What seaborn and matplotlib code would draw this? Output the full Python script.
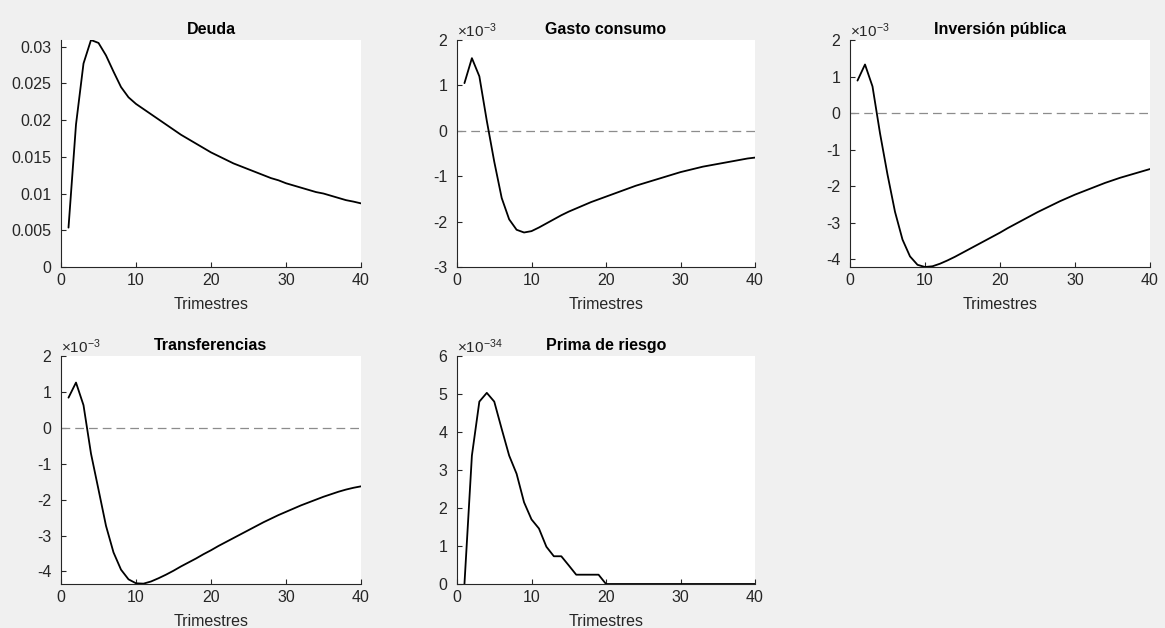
import numpy as np
import pandas as pd
import matplotlib
matplotlib.use("Agg")
import matplotlib.pyplot as plt
from matplotlib.ticker import FuncFormatter
import seaborn as sns

# ---------------- data ----------------
trimestres = list(range(1, 41))

deuda = [0.00536, 0.0194, 0.0277, 0.0309, 0.0305, 0.0288, 0.0266, 0.0245, 0.0231, 0.0222,
         0.0215, 0.0208, 0.0201, 0.0194, 0.0187, 0.0180, 0.0174, 0.0168, 0.0162, 0.0156,
         0.0151, 0.0146, 0.0141, 0.0137, 0.0133, 0.0129, 0.0125, 0.0121, 0.0118, 0.0114,
         0.0111, 0.0108, 0.0105, 0.0102, 0.0100, 0.0097, 0.0094, 0.0091, 0.0089, 0.00866]

gasto_consumo = [1.05, 1.60, 1.20, 0.22, -0.68, -1.48, -1.95, -2.18, -2.24, -2.21,
                 -2.13, -2.04, -1.95, -1.86, -1.78, -1.71, -1.64, -1.57, -1.51, -1.45,
                 -1.39, -1.33, -1.27, -1.21, -1.16, -1.11, -1.06, -1.01, -0.96, -0.91,
                 -0.87, -0.83, -0.79, -0.76, -0.73, -0.70, -0.67, -0.64, -0.61, -0.59]

inversion_publica = [0.89, 1.33, 0.73, -0.55, -1.68, -2.70, -3.46, -3.92, -4.15, -4.21,
                     -4.19, -4.12, -4.03, -3.93, -3.82, -3.71, -3.60, -3.49, -3.38, -3.27,
                     -3.15, -3.04, -2.93, -2.82, -2.71, -2.61, -2.51, -2.41, -2.32, -2.23,
                     -2.15, -2.07, -1.99, -1.91, -1.84, -1.77, -1.71, -1.65, -1.59, -1.53]

transferencias = [0.84, 1.26, 0.63, -0.72, -1.72, -2.73, -3.47, -3.95, -4.22, -4.33,
                  -4.34, -4.28, -4.19, -4.09, -3.98, -3.86, -3.75, -3.64, -3.52, -3.41,
                  -3.29, -3.18, -3.07, -2.96, -2.85, -2.74, -2.63, -2.53, -2.43, -2.34,
                  -2.25, -2.16, -2.08, -2.00, -1.92, -1.85, -1.78, -1.72, -1.67, -1.63]

prima_riesgo = [0.0, 3.38, 4.80, 5.03, 4.80, 4.08, 3.38, 2.90, 2.15, 1.70,
                1.46, 0.98, 0.73, 0.73, 0.49, 0.245, 0.245, 0.245, 0.245, 0.0,
                0, 0, 0, 0, 0, 0, 0, 0, 0, 0,
                0, 0, 0, 0, 0, 0, 0, 0, 0, 0]

titles = ["Deuda", "Gasto consumo", "Inversión pública", "Transferencias", "Prima de riesgo"]
exponents = [0, -3, -3, -3, -34]
ylims = [(0, 0.0309), (-3, 2), (-4.21, 2), (-4.35, 2), (0, 6)]  # in displayed units
yticks = [[0, 0.005, 0.01, 0.015, 0.02, 0.025, 0.03],
          [-3, -2, -1, 0, 1, 2],
          [-4, -3, -2, -1, 0, 1, 2],
          [-4, -3, -2, -1, 0, 1, 2],
          [0, 1, 2, 3, 4, 5, 6]]
zero_line = [False, True, True, True, False]
xlabel = "Trimestres"

series = [
    np.array(deuda),
    np.array(gasto_consumo) * 1e-3,
    np.array(inversion_publica) * 1e-3,
    np.array(transferencias) * 1e-3,
    np.array(prima_riesgo) * 1e-34,
]

# ---------------- style ----------------
sns.set_theme(style="white")
plt.rcParams["font.family"] = ["Liberation Sans", "DejaVu Sans"]
plt.rcParams["axes.unicode_minus"] = False
plt.rcParams["mathtext.fontset"] = "custom"
plt.rcParams["mathtext.rm"] = "Liberation Sans"
plt.rcParams["mathtext.it"] = "Liberation Sans:italic"
plt.rcParams["mathtext.bf"] = "Liberation Sans:bold"

AX_COL = "#262626"
FS = 11.5

W, H = 1165, 628
fig = plt.figure(figsize=(W / 100, H / 100), dpi=100, facecolor="#f0f0f0")

# axes rectangles in pixels: (left, top, right, bottom)
rects = [(61, 40, 361, 267), (457, 40, 755, 267), (850, 40, 1150, 267),
         (61, 356, 361, 584), (457, 356, 755, 584)]

for i, (l, t, r, b) in enumerate(rects):
    ax = fig.add_axes([l / W, 1 - b / H, (r - l) / W, (b - t) / H])
    ax.set_facecolor("white")
    df = pd.DataFrame({"x": trimestres, "y": series[i]})
    if zero_line[i]:
        ax.axhline(0, color="#8c8c8c", lw=0.9, ls=(0, (7, 4)), zorder=1)
    sns.lineplot(data=df, x="x", y="y", ax=ax, color="black", lw=1.3, zorder=3)

    scale = 10.0 ** exponents[i]
    lo, hi = ylims[i]
    ax.set_ylim(lo * scale, hi * scale)
    ax.set_xlim(0, 40)
    ax.set_xticks([0, 10, 20, 30, 40])
    ax.set_yticks([v * scale for v in yticks[i]])
    ax.yaxis.set_major_formatter(FuncFormatter(lambda v, p, s=scale: f"{v / s:g}" if abs(v / s) > 1e-9 else "0"))

    ax.set_title(titles[i], fontsize=FS, fontweight="bold", color="black", pad=4)
    ax.set_xlabel(xlabel, fontsize=FS, color=AX_COL, labelpad=7)
    ax.set_ylabel("")

    for side in ["top", "right"]:
        ax.spines[side].set_visible(False)
    for side in ["left", "bottom"]:
        ax.spines[side].set_color(AX_COL)
        ax.spines[side].set_linewidth(0.8)
    ax.tick_params(direction="in", length=3.5, width=0.8, colors=AX_COL,
                   labelsize=FS, left=True, bottom=True)
    ax.tick_params(axis="y", pad=7)
    ax.tick_params(axis="x", pad=4)

    if exponents[i] != 0:
        ax.text(0.0, 1.0, r"$\times10^{%d}$" % exponents[i], transform=ax.transAxes,
                ha="left", va="bottom", fontsize=11, color=AX_COL)

fig.savefig("out.png", dpi=100, facecolor=fig.get_facecolor())
